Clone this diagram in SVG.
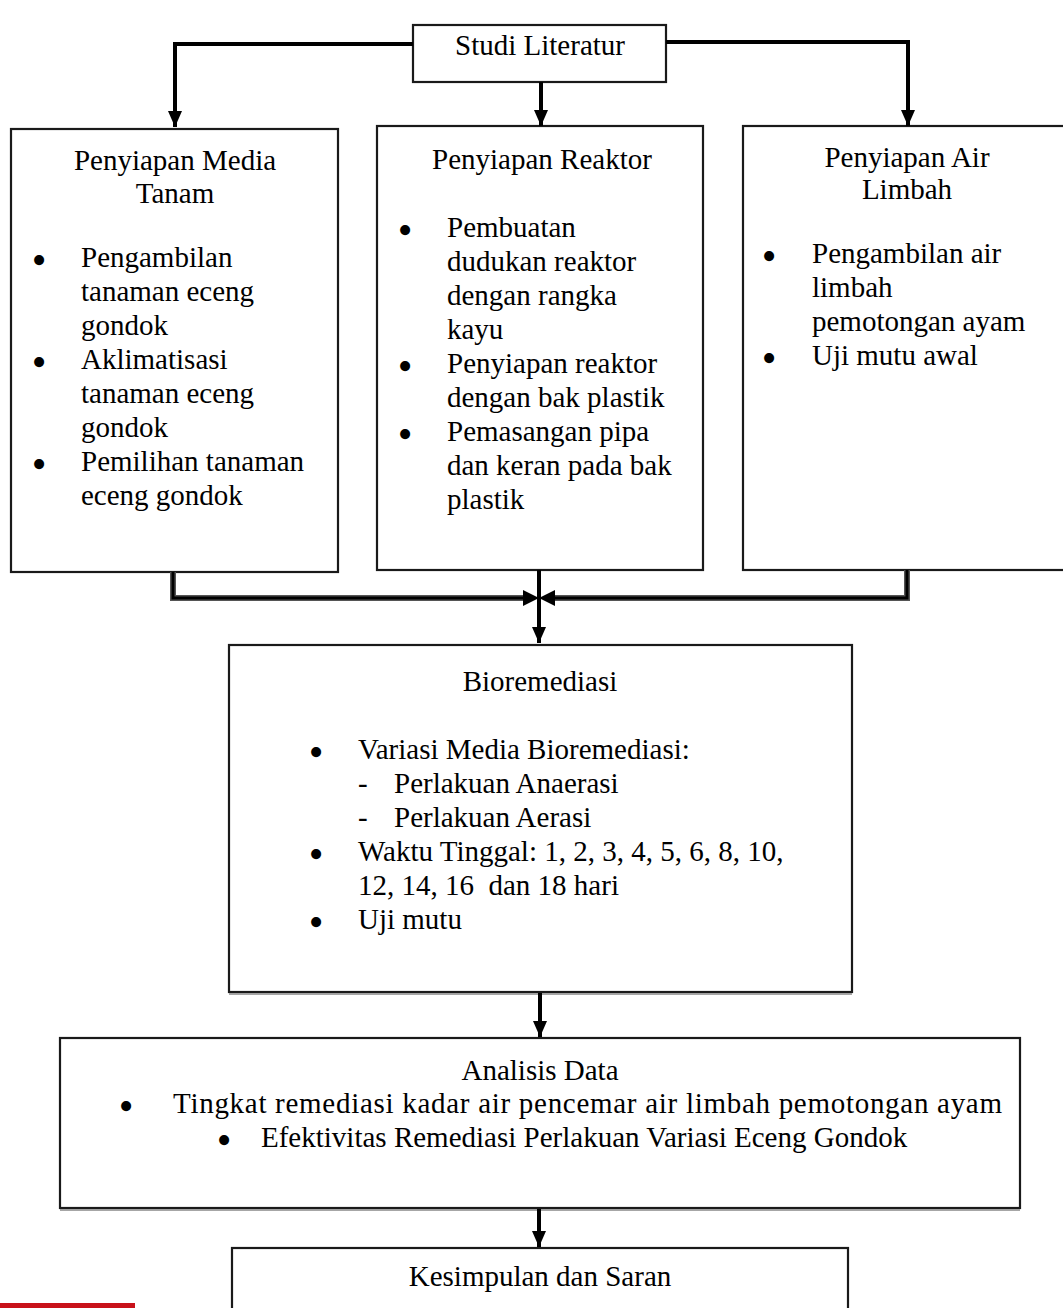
<svg xmlns="http://www.w3.org/2000/svg" width="1063" height="1308" viewBox="0 0 1063 1308">
<style>
.box{fill:#fff;stroke:#1a1a1a;stroke-width:2.2}
.t{font-family:"Liberation Serif","Times New Roman",serif;font-size:29px;fill:#000}
.b{font-family:"Liberation Serif","Times New Roman",serif;font-size:42px;fill:#000;text-anchor:middle}
.c{text-anchor:middle}
.con{fill:none;stroke:#000;stroke-width:4}
.dbl{fill:none;stroke:#555;stroke-width:6}
.dblin{fill:none;stroke:#000;stroke-width:3}
</style>
<defs>
<marker id="ah" viewBox="0 0 16 14" refX="16" refY="7" markerWidth="16" markerHeight="14" markerUnits="userSpaceOnUse" orient="auto">
<path d="M0,0 L16,7 L0,14 Z" fill="#000"/>
</marker>
</defs>
<rect x="0" y="0" width="1063" height="1308" fill="#fff"/>

<g id="studi">
<rect class="box" x="413" y="25" width="253" height="57"/>
<text class="t c" x="540" y="55">Studi Literatur</text>
</g>

<g id="media">
<rect class="box" x="11" y="129" width="327" height="443"/>
<text class="t c" x="175" y="170">Penyiapan Media</text>
<text class="t c" x="175" y="203">Tanam</text>
<text class="b" x="39" y="274">•</text>
<text class="t" x="81" y="267">Pengambilan</text>
<text class="t" x="81" y="301">tanaman eceng</text>
<text class="t" x="81" y="335">gondok</text>
<text class="b" x="39" y="376">•</text>
<text class="t" x="81" y="369">Aklimatisasi</text>
<text class="t" x="81" y="403">tanaman eceng</text>
<text class="t" x="81" y="437">gondok</text>
<text class="b" x="39" y="478">•</text>
<text class="t" x="81" y="471">Pemilihan tanaman</text>
<text class="t" x="81" y="505">eceng gondok</text>
</g>

<g id="reaktor">
<rect class="box" x="377" y="126" width="326" height="444"/>
<text class="t c" x="542" y="169">Penyiapan Reaktor</text>
<text class="b" x="405" y="244">•</text>
<text class="t" x="447" y="237">Pembuatan</text>
<text class="t" x="447" y="271">dudukan reaktor</text>
<text class="t" x="447" y="305">dengan rangka</text>
<text class="t" x="447" y="339">kayu</text>
<text class="b" x="405" y="380">•</text>
<text class="t" x="447" y="373">Penyiapan reaktor</text>
<text class="t" x="447" y="407">dengan bak plastik</text>
<text class="b" x="405" y="448">•</text>
<text class="t" x="447" y="441">Pemasangan pipa</text>
<text class="t" x="447" y="475">dan keran pada bak</text>
<text class="t" x="447" y="509">plastik</text>
</g>

<g id="limbah">
<rect class="box" x="743" y="126" width="330" height="444"/>
<text class="t c" x="907" y="167">Penyiapan Air</text>
<text class="t c" x="907" y="199">Limbah</text>
<text class="b" x="769" y="270">•</text>
<text class="t" x="812" y="263">Pengambilan air</text>
<text class="t" x="812" y="297">limbah</text>
<text class="t" x="812" y="331">pemotongan ayam</text>
<text class="b" x="769" y="372">•</text>
<text class="t" x="812" y="365">Uji mutu awal</text>
</g>

<g id="bioremediasi">
<rect class="box" x="229" y="645" width="623" height="347"/>
<line x1="229" y1="994" x2="852" y2="994" stroke="#888" stroke-width="1.5"/>
<text class="t c" x="540" y="691">Bioremediasi</text>
<text class="b" x="316" y="766">•</text>
<text class="t" x="358" y="759">Variasi Media Bioremediasi:</text>
<text class="t" x="358" y="793">-</text>
<text class="t" x="394" y="793">Perlakuan Anaerasi</text>
<text class="t" x="358" y="827">-</text>
<text class="t" x="394" y="827">Perlakuan Aerasi</text>
<text class="b" x="316" y="868">•</text>
<text class="t" x="358" y="861">Waktu Tinggal: 1, 2, 3, 4, 5, 6, 8, 10,</text>
<text class="t" x="358" y="895" xml:space="preserve">12, 14, 16  dan 18 hari</text>
<text class="b" x="316" y="936">•</text>
<text class="t" x="358" y="929">Uji mutu</text>
</g>

<g id="analisis">
<rect class="box" x="60" y="1038" width="960" height="170"/>
<line x1="60" y1="1210" x2="1020" y2="1210" stroke="#888" stroke-width="1.5"/>
<text class="t c" x="540" y="1080">Analisis Data</text>
<text class="b" x="126" y="1120">•</text>
<text class="t" x="173" y="1113" textLength="829" lengthAdjust="spacing">Tingkat remediasi kadar air pencemar air limbah pemotongan ayam</text>
<text class="b" x="224" y="1154">•</text>
<text class="t" x="261" y="1147">Efektivitas Remediasi Perlakuan Variasi Eceng Gondok</text>
</g>

<g id="kesimpulan">
<rect class="box" x="232" y="1248" width="616" height="80"/>
<text class="t c" x="540" y="1286">Kesimpulan dan Saran</text>
</g>

<rect id="red-bar" x="0" y="1303" width="135" height="5" fill="#c8121a"/>

<g id="connectors">
<path class="con" d="M413,44 H175 V127" marker-end="url(#ah)"/>
<path class="con" d="M541,82 V126" marker-end="url(#ah)"/>
<path class="con" d="M666,42 H908 V126" marker-end="url(#ah)"/>
<path class="dbl" d="M173,572 V598 H524"/>
<path class="dblin" d="M173,572 V598 H526"/>
<path class="dbl" d="M907,570 V598 H554"/>
<path class="dblin" d="M907,570 V598 H552"/>
<path d="M523,590 L539,598 L523,606 Z" fill="#000"/>
<path d="M555,590 L539,598 L555,606 Z" fill="#000"/>
<path class="con" d="M539,570 V643" marker-end="url(#ah)"/>
<path class="con" d="M540,993 V1037" marker-end="url(#ah)"/>
<path class="con" d="M539,1209 V1247" marker-end="url(#ah)"/>
</g>
</svg>
